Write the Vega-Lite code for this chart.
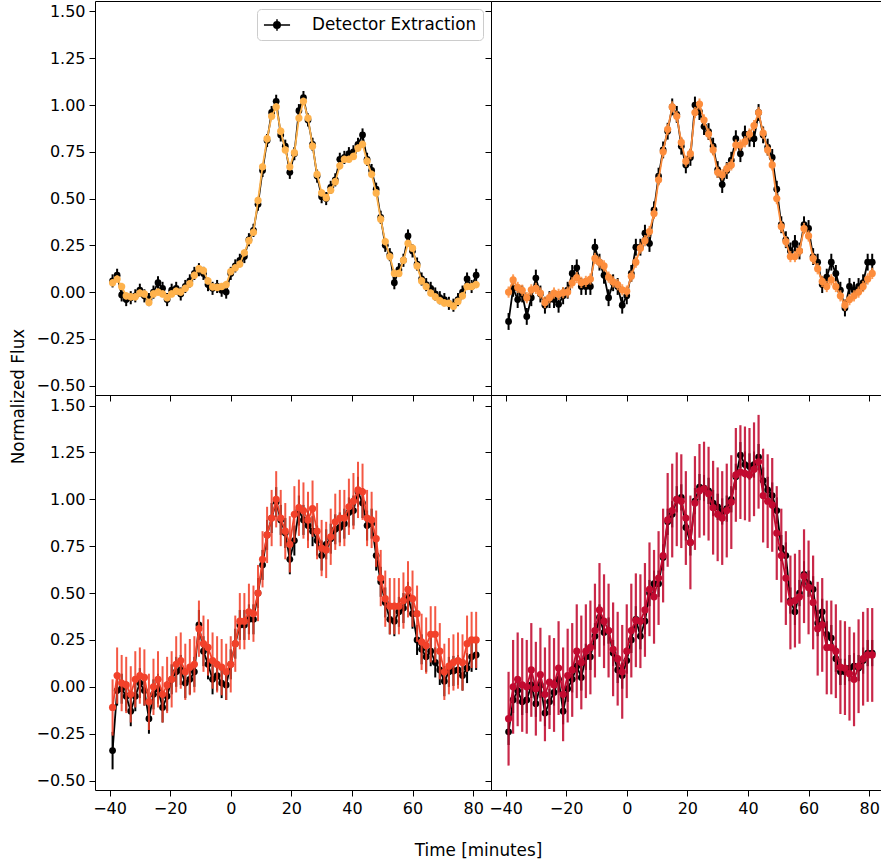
{
"$schema": "https://vega.github.io/schema/vega-lite/v6.json",
"padding": {"left": 9, "top": 0, "right": 0, "bottom": 0},
"background": "white",
"config": {
 "view": {"stroke": "black", "strokeWidth": 1},
 "font": "DejaVu Sans",
 "axis": {"domain": false, "grid": false, "tickColor": "black", "tickSize": 6, "tickWidth": 1, "labelFontSize": 16, "labelColor": "black", "labelFont": "DejaVu Sans", "titleFont": "DejaVu Sans", "titleFontSize": 16.8, "titleFontWeight": "normal", "titleColor": "black", "labelPadding": 4, "labelFlush": false, "labelOverlap": false}
},
"datasets": {
"tl": [
{"t":-39,"k":0.06,"c":0.05,"ke":0.035,"ce":0.02},
{"t":-37.5,"k":0.09,"c":0.07,"ke":0.035,"ce":0.02},
{"t":-36,"k":-0.015,"c":0.03,"ke":0.035,"ce":0.02},
{"t":-34.5,"k":-0.04,"c":-0.02,"ke":0.035,"ce":0.02},
{"t":-33,"k":-0.03,"c":-0.025,"ke":0.035,"ce":0.02},
{"t":-31.5,"k":-0.02,"c":-0.025,"ke":0.035,"ce":0.02},
{"t":-30,"k":0.01,"c":-0.005,"ke":0.035,"ce":0.02},
{"t":-28.5,"k":-0.02,"c":-0.01,"ke":0.035,"ce":0.02},
{"t":-27,"k":-0.04,"c":-0.055,"ke":0.035,"ce":0.02},
{"t":-25.5,"k":0.0,"c":-0.01,"ke":0.035,"ce":0.02},
{"t":-24,"k":0.05,"c":0.0,"ke":0.035,"ce":0.02},
{"t":-22.5,"k":0.02,"c":-0.01,"ke":0.035,"ce":0.02},
{"t":-21,"k":-0.04,"c":-0.03,"ke":0.035,"ce":0.02},
{"t":-19.5,"k":0.01,"c":-0.01,"ke":0.035,"ce":0.02},
{"t":-18,"k":0.02,"c":0.005,"ke":0.035,"ce":0.02},
{"t":-16.5,"k":-0.01,"c":0.0,"ke":0.035,"ce":0.02},
{"t":-15,"k":0.03,"c":0.02,"ke":0.035,"ce":0.02},
{"t":-13.5,"k":0.06,"c":0.045,"ke":0.035,"ce":0.02},
{"t":-12,"k":0.10,"c":0.09,"ke":0.035,"ce":0.02},
{"t":-10.5,"k":0.12,"c":0.125,"ke":0.035,"ce":0.02},
{"t":-9,"k":0.10,"c":0.115,"ke":0.035,"ce":0.02},
{"t":-7.5,"k":0.04,"c":0.06,"ke":0.035,"ce":0.02},
{"t":-6,"k":0.02,"c":0.028,"ke":0.035,"ce":0.02},
{"t":-4.5,"k":0.03,"c":0.025,"ke":0.035,"ce":0.02},
{"t":-3,"k":0.01,"c":0.03,"ke":0.035,"ce":0.02},
{"t":-1.5,"k":0.0,"c":0.04,"ke":0.035,"ce":0.02},
{"t":0,"k":0.10,"c":0.11,"ke":0.035,"ce":0.02},
{"t":1.5,"k":0.14,"c":0.13,"ke":0.035,"ce":0.02},
{"t":3,"k":0.17,"c":0.15,"ke":0.035,"ce":0.02},
{"t":4.5,"k":0.19,"c":0.21,"ke":0.035,"ce":0.02},
{"t":6,"k":0.28,"c":0.275,"ke":0.035,"ce":0.02},
{"t":7.5,"k":0.33,"c":0.32,"ke":0.035,"ce":0.02},
{"t":9,"k":0.47,"c":0.49,"ke":0.035,"ce":0.02},
{"t":10.5,"k":0.65,"c":0.67,"ke":0.035,"ce":0.02},
{"t":12,"k":0.81,"c":0.82,"ke":0.035,"ce":0.02},
{"t":13.5,"k":0.96,"c":0.94,"ke":0.035,"ce":0.02},
{"t":15,"k":1.02,"c":0.99,"ke":0.035,"ce":0.02},
{"t":16.5,"k":0.84,"c":0.86,"ke":0.035,"ce":0.02},
{"t":18,"k":0.78,"c":0.76,"ke":0.035,"ce":0.02},
{"t":19.5,"k":0.64,"c":0.67,"ke":0.035,"ce":0.02},
{"t":21,"k":0.74,"c":0.745,"ke":0.035,"ce":0.02},
{"t":22.5,"k":0.97,"c":0.93,"ke":0.035,"ce":0.02},
{"t":24,"k":1.04,"c":1.02,"ke":0.035,"ce":0.02},
{"t":25.5,"k":0.92,"c":0.93,"ke":0.035,"ce":0.02},
{"t":27,"k":0.79,"c":0.78,"ke":0.035,"ce":0.02},
{"t":28.5,"k":0.62,"c":0.63,"ke":0.035,"ce":0.02},
{"t":30,"k":0.51,"c":0.53,"ke":0.035,"ce":0.02},
{"t":31.5,"k":0.50,"c":0.505,"ke":0.035,"ce":0.02},
{"t":33,"k":0.56,"c":0.545,"ke":0.035,"ce":0.02},
{"t":34.5,"k":0.60,"c":0.59,"ke":0.035,"ce":0.02},
{"t":36,"k":0.71,"c":0.675,"ke":0.035,"ce":0.02},
{"t":37.5,"k":0.72,"c":0.71,"ke":0.035,"ce":0.02},
{"t":39,"k":0.74,"c":0.71,"ke":0.035,"ce":0.02},
{"t":40.5,"k":0.75,"c":0.725,"ke":0.035,"ce":0.02},
{"t":42,"k":0.79,"c":0.77,"ke":0.035,"ce":0.02},
{"t":43.5,"k":0.84,"c":0.79,"ke":0.035,"ce":0.02},
{"t":45,"k":0.71,"c":0.70,"ke":0.035,"ce":0.02},
{"t":46.5,"k":0.65,"c":0.63,"ke":0.035,"ce":0.02},
{"t":48,"k":0.55,"c":0.53,"ke":0.035,"ce":0.02},
{"t":49.5,"k":0.40,"c":0.39,"ke":0.035,"ce":0.02},
{"t":51,"k":0.25,"c":0.27,"ke":0.035,"ce":0.02},
{"t":52.5,"k":0.20,"c":0.19,"ke":0.035,"ce":0.02},
{"t":54,"k":0.05,"c":0.10,"ke":0.035,"ce":0.02},
{"t":55.5,"k":0.12,"c":0.10,"ke":0.035,"ce":0.02},
{"t":57,"k":0.17,"c":0.17,"ke":0.035,"ce":0.02},
{"t":58.5,"k":0.30,"c":0.26,"ke":0.035,"ce":0.02},
{"t":60,"k":0.22,"c":0.235,"ke":0.035,"ce":0.02},
{"t":61.5,"k":0.15,"c":0.14,"ke":0.035,"ce":0.02},
{"t":63,"k":0.07,"c":0.06,"ke":0.035,"ce":0.02},
{"t":64.5,"k":0.04,"c":0.03,"ke":0.035,"ce":0.02},
{"t":66,"k":0.02,"c":-0.005,"ke":0.035,"ce":0.02},
{"t":67.5,"k":-0.01,"c":-0.025,"ke":0.035,"ce":0.02},
{"t":69,"k":-0.03,"c":-0.045,"ke":0.035,"ce":0.02},
{"t":70.5,"k":-0.04,"c":-0.058,"ke":0.035,"ce":0.02},
{"t":72,"k":-0.06,"c":-0.06,"ke":0.035,"ce":0.02},
{"t":73.5,"k":-0.07,"c":-0.075,"ke":0.035,"ce":0.02},
{"t":75,"k":-0.04,"c":-0.05,"ke":0.035,"ce":0.02},
{"t":76.5,"k":0.0,"c":-0.02,"ke":0.035,"ce":0.02},
{"t":78,"k":0.07,"c":0.03,"ke":0.035,"ce":0.02},
{"t":79.5,"k":0.03,"c":0.03,"ke":0.035,"ce":0.02},
{"t":81,"k":0.09,"c":0.04,"ke":0.035,"ce":0.02}
],
"tr": [
{"t":-39,"k":-0.157,"c":0.0,"ke":0.045,"ce":0.03},
{"t":-37.5,"k":0.02,"c":0.065,"ke":0.045,"ce":0.03},
{"t":-36,"k":-0.04,"c":0.025,"ke":0.045,"ce":0.03},
{"t":-34.5,"k":-0.01,"c":0.01,"ke":0.045,"ce":0.03},
{"t":-33,"k":-0.13,"c":-0.03,"ke":0.045,"ce":0.03},
{"t":-31.5,"k":-0.03,"c":0.012,"ke":0.045,"ce":0.03},
{"t":-30,"k":0.075,"c":0.02,"ke":0.045,"ce":0.03},
{"t":-28.5,"k":-0.01,"c":-0.005,"ke":0.045,"ce":0.03},
{"t":-27,"k":-0.07,"c":-0.055,"ke":0.045,"ce":0.03},
{"t":-25.5,"k":-0.04,"c":-0.03,"ke":0.045,"ce":0.03},
{"t":-24,"k":-0.04,"c":-0.005,"ke":0.045,"ce":0.03},
{"t":-22.5,"k":-0.065,"c":-0.012,"ke":0.045,"ce":0.03},
{"t":-21,"k":-0.02,"c":-0.003,"ke":0.045,"ce":0.03},
{"t":-19.5,"k":0.01,"c":0.0,"ke":0.045,"ce":0.03},
{"t":-18,"k":0.10,"c":0.05,"ke":0.045,"ce":0.03},
{"t":-16.5,"k":0.13,"c":0.078,"ke":0.045,"ce":0.03},
{"t":-15,"k":0.03,"c":0.052,"ke":0.045,"ce":0.03},
{"t":-13.5,"k":0.03,"c":0.057,"ke":0.045,"ce":0.03},
{"t":-12,"k":0.03,"c":0.07,"ke":0.045,"ce":0.03},
{"t":-10.5,"k":0.24,"c":0.18,"ke":0.045,"ce":0.03},
{"t":-9,"k":0.16,"c":0.16,"ke":0.045,"ce":0.03},
{"t":-7.5,"k":0.09,"c":0.14,"ke":0.045,"ce":0.03},
{"t":-6,"k":-0.03,"c":0.08,"ke":0.045,"ce":0.03},
{"t":-4.5,"k":0.05,"c":0.055,"ke":0.045,"ce":0.03},
{"t":-3,"k":0.03,"c":0.04,"ke":0.045,"ce":0.03},
{"t":-1.5,"k":-0.07,"c":0.012,"ke":0.045,"ce":0.03},
{"t":0,"k":-0.02,"c":0.005,"ke":0.045,"ce":0.03},
{"t":1.5,"k":0.10,"c":0.085,"ke":0.045,"ce":0.03},
{"t":3,"k":0.24,"c":0.16,"ke":0.045,"ce":0.03},
{"t":4.5,"k":0.24,"c":0.235,"ke":0.045,"ce":0.03},
{"t":6,"k":0.315,"c":0.275,"ke":0.045,"ce":0.03},
{"t":7.5,"k":0.26,"c":0.324,"ke":0.045,"ce":0.03},
{"t":9,"k":0.44,"c":0.42,"ke":0.045,"ce":0.03},
{"t":10.5,"k":0.62,"c":0.60,"ke":0.045,"ce":0.03},
{"t":12,"k":0.76,"c":0.75,"ke":0.045,"ce":0.03},
{"t":13.5,"k":0.86,"c":0.87,"ke":0.045,"ce":0.03},
{"t":15,"k":0.99,"c":0.99,"ke":0.045,"ce":0.03},
{"t":16.5,"k":0.95,"c":0.94,"ke":0.045,"ce":0.03},
{"t":18,"k":0.78,"c":0.80,"ke":0.045,"ce":0.03},
{"t":19.5,"k":0.68,"c":0.70,"ke":0.045,"ce":0.03},
{"t":21,"k":0.72,"c":0.74,"ke":0.045,"ce":0.03},
{"t":22.5,"k":1.0,"c":0.96,"ke":0.045,"ce":0.03},
{"t":24,"k":0.965,"c":1.005,"ke":0.045,"ce":0.03},
{"t":25.5,"k":0.885,"c":0.92,"ke":0.045,"ce":0.03},
{"t":27,"k":0.858,"c":0.845,"ke":0.045,"ce":0.03},
{"t":28.5,"k":0.78,"c":0.76,"ke":0.045,"ce":0.03},
{"t":30,"k":0.655,"c":0.64,"ke":0.045,"ce":0.03},
{"t":31.5,"k":0.575,"c":0.627,"ke":0.045,"ce":0.03},
{"t":33,"k":0.65,"c":0.66,"ke":0.045,"ce":0.03},
{"t":34.5,"k":0.705,"c":0.68,"ke":0.045,"ce":0.03},
{"t":36,"k":0.82,"c":0.786,"ke":0.045,"ce":0.03},
{"t":37.5,"k":0.74,"c":0.786,"ke":0.045,"ce":0.03},
{"t":39,"k":0.845,"c":0.804,"ke":0.045,"ce":0.03},
{"t":40.5,"k":0.822,"c":0.845,"ke":0.045,"ce":0.03},
{"t":42,"k":0.82,"c":0.89,"ke":0.045,"ce":0.03},
{"t":43.5,"k":0.96,"c":0.96,"ke":0.045,"ce":0.03},
{"t":45,"k":0.84,"c":0.85,"ke":0.045,"ce":0.03},
{"t":46.5,"k":0.775,"c":0.76,"ke":0.045,"ce":0.03},
{"t":48,"k":0.72,"c":0.68,"ke":0.045,"ce":0.03},
{"t":49.5,"k":0.55,"c":0.50,"ke":0.045,"ce":0.03},
{"t":51,"k":0.36,"c":0.35,"ke":0.045,"ce":0.03},
{"t":52.5,"k":0.28,"c":0.27,"ke":0.045,"ce":0.03},
{"t":54,"k":0.22,"c":0.19,"ke":0.045,"ce":0.03},
{"t":55.5,"k":0.26,"c":0.19,"ke":0.045,"ce":0.03},
{"t":57,"k":0.22,"c":0.22,"ke":0.045,"ce":0.03},
{"t":58.5,"k":0.36,"c":0.34,"ke":0.045,"ce":0.03},
{"t":60,"k":0.34,"c":0.30,"ke":0.045,"ce":0.03},
{"t":61.5,"k":0.19,"c":0.18,"ke":0.045,"ce":0.03},
{"t":63,"k":0.16,"c":0.125,"ke":0.045,"ce":0.03},
{"t":64.5,"k":0.04,"c":0.057,"ke":0.045,"ce":0.03},
{"t":66,"k":0.08,"c":0.03,"ke":0.045,"ce":0.03},
{"t":67.5,"k":0.16,"c":0.066,"ke":0.045,"ce":0.03},
{"t":69,"k":0.10,"c":0.03,"ke":0.045,"ce":0.03},
{"t":70.5,"k":0.01,"c":-0.02,"ke":0.045,"ce":0.03},
{"t":72,"k":-0.085,"c":-0.07,"ke":0.045,"ce":0.03},
{"t":73.5,"k":0.03,"c":-0.04,"ke":0.045,"ce":0.03},
{"t":75,"k":0.01,"c":-0.02,"ke":0.045,"ce":0.03},
{"t":76.5,"k":0.03,"c":0.0,"ke":0.045,"ce":0.03},
{"t":78,"k":0.05,"c":0.03,"ke":0.045,"ce":0.03},
{"t":79.5,"k":0.16,"c":0.07,"ke":0.045,"ce":0.03},
{"t":81,"k":0.16,"c":0.10,"ke":0.045,"ce":0.03}
],
"bl": [
{"t":-39,"k":-0.34,"c":-0.11,"ke":0.1,"ce":0.15},
{"t":-37.5,"k":-0.02,"c":0.06,"ke":0.08,"ce":0.15},
{"t":-36,"k":-0.01,"c":0.02,"ke":0.08,"ce":0.15},
{"t":-34.5,"k":-0.05,"c":0.01,"ke":0.08,"ce":0.15},
{"t":-33,"k":-0.13,"c":-0.04,"ke":0.08,"ce":0.15},
{"t":-31.5,"k":-0.05,"c":0.04,"ke":0.08,"ce":0.15},
{"t":-30,"k":0.02,"c":0.06,"ke":0.08,"ce":0.15},
{"t":-28.5,"k":-0.02,"c":0.05,"ke":0.08,"ce":0.15},
{"t":-27,"k":-0.17,"c":-0.08,"ke":0.08,"ce":0.15},
{"t":-25.5,"k":-0.04,"c":0.0,"ke":0.08,"ce":0.15},
{"t":-24,"k":-0.01,"c":0.04,"ke":0.08,"ce":0.15},
{"t":-22.5,"k":-0.11,"c":-0.04,"ke":0.08,"ce":0.15},
{"t":-21,"k":-0.05,"c":0.01,"ke":0.08,"ce":0.15},
{"t":-19.5,"k":0.04,"c":0.04,"ke":0.08,"ce":0.15},
{"t":-18,"k":0.08,"c":0.12,"ke":0.08,"ce":0.15},
{"t":-16.5,"k":0.09,"c":0.14,"ke":0.08,"ce":0.15},
{"t":-15,"k":0.02,"c":0.08,"ke":0.08,"ce":0.15},
{"t":-13.5,"k":0.04,"c":0.105,"ke":0.08,"ce":0.15},
{"t":-12,"k":0.08,"c":0.12,"ke":0.08,"ce":0.15},
{"t":-10.5,"k":0.33,"c":0.31,"ke":0.08,"ce":0.15},
{"t":-9,"k":0.19,"c":0.23,"ke":0.08,"ce":0.15},
{"t":-7.5,"k":0.12,"c":0.21,"ke":0.08,"ce":0.15},
{"t":-6,"k":0.04,"c":0.14,"ke":0.08,"ce":0.15},
{"t":-4.5,"k":0.06,"c":0.12,"ke":0.08,"ce":0.15},
{"t":-3,"k":0.02,"c":0.105,"ke":0.08,"ce":0.15},
{"t":-1.5,"k":0.01,"c":0.08,"ke":0.08,"ce":0.15},
{"t":0,"k":0.12,"c":0.12,"ke":0.08,"ce":0.15},
{"t":1.5,"k":0.23,"c":0.23,"ke":0.08,"ce":0.15},
{"t":3,"k":0.33,"c":0.35,"ke":0.08,"ce":0.15},
{"t":4.5,"k":0.33,"c":0.35,"ke":0.08,"ce":0.15},
{"t":6,"k":0.36,"c":0.40,"ke":0.08,"ce":0.15},
{"t":7.5,"k":0.36,"c":0.39,"ke":0.08,"ce":0.15},
{"t":9,"k":0.50,"c":0.50,"ke":0.08,"ce":0.15},
{"t":10.5,"k":0.65,"c":0.68,"ke":0.08,"ce":0.15},
{"t":12,"k":0.81,"c":0.81,"ke":0.08,"ce":0.15},
{"t":13.5,"k":0.90,"c":0.90,"ke":0.08,"ce":0.15},
{"t":15,"k":0.985,"c":1.0,"ke":0.08,"ce":0.15},
{"t":16.5,"k":0.89,"c":0.90,"ke":0.08,"ce":0.15},
{"t":18,"k":0.82,"c":0.83,"ke":0.08,"ce":0.15},
{"t":19.5,"k":0.68,"c":0.76,"ke":0.08,"ce":0.15},
{"t":21,"k":0.78,"c":0.92,"ke":0.08,"ce":0.15},
{"t":22.5,"k":0.94,"c":0.955,"ke":0.08,"ce":0.15},
{"t":24,"k":0.89,"c":0.94,"ke":0.08,"ce":0.15},
{"t":25.5,"k":0.86,"c":0.89,"ke":0.08,"ce":0.15},
{"t":27,"k":0.83,"c":0.95,"ke":0.08,"ce":0.15},
{"t":28.5,"k":0.78,"c":0.83,"ke":0.08,"ce":0.15},
{"t":30,"k":0.70,"c":0.74,"ke":0.08,"ce":0.15},
{"t":31.5,"k":0.76,"c":0.73,"ke":0.08,"ce":0.15},
{"t":33,"k":0.79,"c":0.80,"ke":0.08,"ce":0.15},
{"t":34.5,"k":0.84,"c":0.88,"ke":0.08,"ce":0.15},
{"t":36,"k":0.85,"c":0.90,"ke":0.08,"ce":0.15},
{"t":37.5,"k":0.87,"c":0.90,"ke":0.08,"ce":0.15},
{"t":39,"k":0.93,"c":0.96,"ke":0.08,"ce":0.15},
{"t":40.5,"k":0.94,"c":0.99,"ke":0.08,"ce":0.15},
{"t":42,"k":1.04,"c":1.05,"ke":0.08,"ce":0.15},
{"t":43.5,"k":0.98,"c":1.04,"ke":0.08,"ce":0.15},
{"t":45,"k":0.86,"c":0.90,"ke":0.08,"ce":0.15},
{"t":46.5,"k":0.87,"c":0.89,"ke":0.08,"ce":0.15},
{"t":48,"k":0.70,"c":0.79,"ke":0.08,"ce":0.15},
{"t":49.5,"k":0.56,"c":0.58,"ke":0.08,"ce":0.15},
{"t":51,"k":0.45,"c":0.47,"ke":0.08,"ce":0.15},
{"t":52.5,"k":0.36,"c":0.43,"ke":0.08,"ce":0.15},
{"t":54,"k":0.35,"c":0.43,"ke":0.08,"ce":0.15},
{"t":55.5,"k":0.40,"c":0.43,"ke":0.08,"ce":0.15},
{"t":57,"k":0.42,"c":0.46,"ke":0.08,"ce":0.15},
{"t":58.5,"k":0.48,"c":0.52,"ke":0.08,"ce":0.15},
{"t":60,"k":0.39,"c":0.47,"ke":0.08,"ce":0.15},
{"t":61.5,"k":0.25,"c":0.39,"ke":0.08,"ce":0.15},
{"t":63,"k":0.20,"c":0.24,"ke":0.08,"ce":0.15},
{"t":64.5,"k":0.16,"c":0.22,"ke":0.08,"ce":0.15},
{"t":66,"k":0.19,"c":0.28,"ke":0.08,"ce":0.15},
{"t":67.5,"k":0.13,"c":0.28,"ke":0.08,"ce":0.15},
{"t":69,"k":0.09,"c":0.19,"ke":0.08,"ce":0.15},
{"t":70.5,"k":0.03,"c":0.08,"ke":0.08,"ce":0.15},
{"t":72,"k":0.08,"c":0.11,"ke":0.08,"ce":0.15},
{"t":73.5,"k":0.085,"c":0.13,"ke":0.08,"ce":0.15},
{"t":75,"k":0.09,"c":0.14,"ke":0.08,"ce":0.15},
{"t":76.5,"k":0.06,"c":0.13,"ke":0.08,"ce":0.15},
{"t":78,"k":0.10,"c":0.23,"ke":0.08,"ce":0.15},
{"t":79.5,"k":0.16,"c":0.25,"ke":0.08,"ce":0.15},
{"t":81,"k":0.17,"c":0.25,"ke":0.08,"ce":0.15}
],
"br": [
{"t":-39,"k":-0.24,"c":-0.17,"ke":0.07,"ce":0.25},
{"t":-37.5,"k":-0.07,"c":0.0,"ke":0.07,"ce":0.25},
{"t":-36,"k":-0.02,"c":0.04,"ke":0.07,"ce":0.25},
{"t":-34.5,"k":-0.08,"c":0.01,"ke":0.07,"ce":0.25},
{"t":-33,"k":-0.07,"c":0.0,"ke":0.07,"ce":0.25},
{"t":-31.5,"k":0.01,"c":0.09,"ke":0.07,"ce":0.25},
{"t":-30,"k":-0.09,"c":-0.01,"ke":0.07,"ce":0.25},
{"t":-28.5,"k":0.01,"c":0.065,"ke":0.07,"ce":0.25},
{"t":-27,"k":-0.14,"c":-0.04,"ke":0.07,"ce":0.25},
{"t":-25.5,"k":-0.08,"c":0.025,"ke":0.07,"ce":0.25},
{"t":-24,"k":-0.03,"c":0.01,"ke":0.07,"ce":0.25},
{"t":-22.5,"k":0.04,"c":0.10,"ke":0.07,"ce":0.25},
{"t":-21,"k":-0.13,"c":-0.04,"ke":0.07,"ce":0.25},
{"t":-19.5,"k":-0.01,"c":0.06,"ke":0.07,"ce":0.25},
{"t":-18,"k":0.04,"c":0.09,"ke":0.07,"ce":0.25},
{"t":-16.5,"k":0.11,"c":0.19,"ke":0.07,"ce":0.25},
{"t":-15,"k":0.05,"c":0.13,"ke":0.07,"ce":0.25},
{"t":-13.5,"k":0.16,"c":0.19,"ke":0.07,"ce":0.25},
{"t":-12,"k":0.16,"c":0.21,"ke":0.07,"ce":0.25},
{"t":-10.5,"k":0.27,"c":0.30,"ke":0.07,"ce":0.25},
{"t":-9,"k":0.37,"c":0.41,"ke":0.07,"ce":0.25},
{"t":-7.5,"k":0.29,"c":0.35,"ke":0.07,"ce":0.25},
{"t":-6,"k":0.30,"c":0.30,"ke":0.07,"ce":0.25},
{"t":-4.5,"k":0.18,"c":0.20,"ke":0.07,"ce":0.25},
{"t":-3,"k":0.09,"c":0.15,"ke":0.07,"ce":0.25},
{"t":-1.5,"k":0.06,"c":0.08,"ke":0.07,"ce":0.25},
{"t":0,"k":0.14,"c":0.19,"ke":0.07,"ce":0.25},
{"t":1.5,"k":0.25,"c":0.30,"ke":0.07,"ce":0.25},
{"t":3,"k":0.36,"c":0.355,"ke":0.07,"ce":0.25},
{"t":4.5,"k":0.27,"c":0.35,"ke":0.07,"ce":0.25},
{"t":6,"k":0.35,"c":0.41,"ke":0.07,"ce":0.25},
{"t":7.5,"k":0.50,"c":0.52,"ke":0.07,"ce":0.25},
{"t":9,"k":0.55,"c":0.48,"ke":0.07,"ce":0.25},
{"t":10.5,"k":0.55,"c":0.58,"ke":0.07,"ce":0.25},
{"t":12,"k":0.69,"c":0.70,"ke":0.07,"ce":0.25},
{"t":13.5,"k":0.88,"c":0.89,"ke":0.07,"ce":0.25},
{"t":15,"k":0.92,"c":0.94,"ke":0.07,"ce":0.25},
{"t":16.5,"k":1.0,"c":1.0,"ke":0.07,"ce":0.25},
{"t":18,"k":1.01,"c":0.99,"ke":0.07,"ce":0.25},
{"t":19.5,"k":0.85,"c":0.90,"ke":0.07,"ce":0.25},
{"t":21,"k":0.77,"c":0.77,"ke":0.07,"ce":0.25},
{"t":22.5,"k":0.99,"c":0.98,"ke":0.07,"ce":0.25},
{"t":24,"k":1.065,"c":1.045,"ke":0.07,"ce":0.25},
{"t":25.5,"k":1.06,"c":1.057,"ke":0.07,"ce":0.25},
{"t":27,"k":1.045,"c":1.03,"ke":0.07,"ce":0.25},
{"t":28.5,"k":0.98,"c":0.955,"ke":0.07,"ce":0.25},
{"t":30,"k":0.96,"c":0.92,"ke":0.07,"ce":0.25},
{"t":31.5,"k":0.935,"c":0.90,"ke":0.07,"ce":0.25},
{"t":33,"k":0.95,"c":0.94,"ke":0.07,"ce":0.25},
{"t":34.5,"k":1.0,"c":0.985,"ke":0.07,"ce":0.25},
{"t":36,"k":1.12,"c":1.13,"ke":0.07,"ce":0.25},
{"t":37.5,"k":1.235,"c":1.145,"ke":0.07,"ce":0.25},
{"t":39,"k":1.185,"c":1.138,"ke":0.07,"ce":0.25},
{"t":40.5,"k":1.175,"c":1.13,"ke":0.07,"ce":0.25},
{"t":42,"k":1.185,"c":1.16,"ke":0.07,"ce":0.25},
{"t":43.5,"k":1.225,"c":1.20,"ke":0.07,"ce":0.25},
{"t":45,"k":1.10,"c":1.02,"ke":0.07,"ce":0.25},
{"t":46.5,"k":1.05,"c":0.99,"ke":0.07,"ce":0.25},
{"t":48,"k":1.02,"c":0.97,"ke":0.07,"ce":0.25},
{"t":49.5,"k":0.94,"c":0.82,"ke":0.07,"ce":0.25},
{"t":51,"k":0.74,"c":0.70,"ke":0.07,"ce":0.25},
{"t":52.5,"k":0.70,"c":0.58,"ke":0.07,"ce":0.25},
{"t":54,"k":0.46,"c":0.45,"ke":0.07,"ce":0.25},
{"t":55.5,"k":0.40,"c":0.46,"ke":0.07,"ce":0.25},
{"t":57,"k":0.50,"c":0.48,"ke":0.07,"ce":0.25},
{"t":58.5,"k":0.60,"c":0.59,"ke":0.07,"ce":0.25},
{"t":60,"k":0.55,"c":0.53,"ke":0.07,"ce":0.25},
{"t":61.5,"k":0.52,"c":0.45,"ke":0.07,"ce":0.25},
{"t":63,"k":0.34,"c":0.31,"ke":0.07,"ce":0.25},
{"t":64.5,"k":0.40,"c":0.33,"ke":0.07,"ce":0.25},
{"t":66,"k":0.28,"c":0.21,"ke":0.07,"ce":0.25},
{"t":67.5,"k":0.26,"c":0.21,"ke":0.07,"ce":0.25},
{"t":69,"k":0.15,"c":0.19,"ke":0.07,"ce":0.25},
{"t":70.5,"k":0.08,"c":0.105,"ke":0.07,"ce":0.25},
{"t":72,"k":0.08,"c":0.10,"ke":0.07,"ce":0.25},
{"t":73.5,"k":0.10,"c":0.07,"ke":0.07,"ce":0.25},
{"t":75,"k":0.11,"c":0.04,"ke":0.07,"ce":0.25},
{"t":76.5,"k":0.10,"c":0.11,"ke":0.07,"ce":0.25},
{"t":78,"k":0.14,"c":0.15,"ke":0.07,"ce":0.25},
{"t":79.5,"k":0.18,"c":0.17,"ke":0.07,"ce":0.25},
{"t":81,"k":0.18,"c":0.17,"ke":0.07,"ce":0.25}
]
},
"columns": 2,
"spacing": 0,
"bounds": "flush",
"resolve": {"scale": {"color": "independent"}, "legend": {"color": "independent"}},
"concat": [
 {"width": 396, "height": 394, "data": {"name": "tl"},
  "encoding": {"x": {"field": "t", "type": "quantitative", "scale": {"domain": [-44.8, 85.9], "nice": false, "zero": false}, "axis": {"values": [-40,-20,0,20,40,60,80], "labels": false, "title": null}}},
  "layer": [
   {"mark": {"type": "errorbar", "color": "black", "thickness": 2},
    "encoding": {"y": {"field": "k", "type": "quantitative", "scale": {"domain": [-0.55, 1.556], "nice": false, "zero": false}, "axis": {"values": [-0.5,-0.25,0,0.25,0.5,0.75,1,1.25,1.5], "format": ".2f", "title": "Normalized Flux", "titleX": -77, "titleY": 395, "titleBaseline": "middle", "titleAlign": "center", "titleAngle": -90}}, "yError": {"field": "ke"}}},
   {"mark": {"type": "line", "color": "black", "strokeWidth": 1.8, "point": {"filled": true, "size": 46, "color": "black"}},
    "encoding": {"y": {"field": "k", "type": "quantitative", "axis": {"values": [-0.5,-0.25,0,0.25,0.5,0.75,1,1.25,1.5], "format": ".2f", "title": "Normalized Flux", "titleX": -77, "titleY": 395, "titleBaseline": "middle", "titleAlign": "center", "titleAngle": -90}},
     "color": {"datum": "Detector Extraction", "type": "nominal", "scale": {"range": ["black"]},
      "legend": {"title": null, "orient": "top-right", "offset": 8, "padding": 6, "strokeColor": "#cccccc", "fillColor": "white", "cornerRadius": 4, "labelFontSize": 16.8, "labelLimit": 400, "labelFont": "DejaVu Sans", "labelColor": "black", "labelOffset": 25, "symbolOffset": 4, "symbolType": "M-1.45,0H1.45M0,-0.65V0.65M0.36,0A0.36,0.36,0,1,1,-0.36,0A0.36,0.36,0,1,1,0.36,0Z", "symbolSize": 324, "symbolStrokeWidth": 1.5, "symbolFillColor": "black", "symbolStrokeColor": "black",
       "encode": {"symbols": {"update": {"fill": {"value": "black"}, "stroke": {"value": "black"}, "opacity": {"value": 1}}}}}}}},
   {"mark": {"type": "errorbar", "color": "#feb24c", "thickness": 2, "opacity": 0.85},
    "encoding": {"y": {"field": "c", "type": "quantitative", "axis": {"values": [-0.5,-0.25,0,0.25,0.5,0.75,1,1.25,1.5], "format": ".2f", "title": "Normalized Flux", "titleX": -77, "titleY": 395, "titleBaseline": "middle", "titleAlign": "center", "titleAngle": -90}}, "yError": {"field": "ce"}}},
   {"mark": {"type": "line", "color": "#feb24c", "strokeWidth": 1.8, "point": {"filled": true, "size": 52, "color": "#feb24c"}},
    "encoding": {"y": {"field": "c", "type": "quantitative", "axis": {"values": [-0.5,-0.25,0,0.25,0.5,0.75,1,1.25,1.5], "format": ".2f", "title": "Normalized Flux", "titleX": -77, "titleY": 395, "titleBaseline": "middle", "titleAlign": "center", "titleAngle": -90}}}}
  ]},
 {"width": 390, "height": 394, "data": {"name": "tr"},
  "encoding": {"x": {"field": "t", "type": "quantitative", "scale": {"domain": [-44.8, 83.9], "nice": false, "zero": false}, "axis": {"values": [-40,-20,0,20,40,60,80], "labels": false, "title": null}}},
  "layer": [
   {"mark": {"type": "errorbar", "color": "black", "thickness": 2},
    "encoding": {"y": {"field": "k", "type": "quantitative", "scale": {"domain": [-0.55, 1.556], "nice": false, "zero": false}, "axis": {"values": [-0.5,-0.25,0,0.25,0.5,0.75,1,1.25,1.5], "labels": false, "title": null}}, "yError": {"field": "ke"}}},
   {"mark": {"type": "line", "color": "black", "strokeWidth": 1.8, "point": {"filled": true, "size": 46, "color": "black"}},
    "encoding": {"y": {"field": "k", "type": "quantitative", "axis": {"values": [-0.5,-0.25,0,0.25,0.5,0.75,1,1.25,1.5], "labels": false, "title": null}}}},
   {"mark": {"type": "errorbar", "color": "#fd8d3c", "thickness": 2, "opacity": 0.85},
    "encoding": {"y": {"field": "c", "type": "quantitative", "axis": {"values": [-0.5,-0.25,0,0.25,0.5,0.75,1,1.25,1.5], "labels": false, "title": null}}, "yError": {"field": "ce"}}},
   {"mark": {"type": "line", "color": "#fd8d3c", "strokeWidth": 1.8, "point": {"filled": true, "size": 52, "color": "#fd8d3c"}},
    "encoding": {"y": {"field": "c", "type": "quantitative", "axis": {"values": [-0.5,-0.25,0,0.25,0.5,0.75,1,1.25,1.5], "labels": false, "title": null}}}}
  ]},
 {"width": 396, "height": 395, "data": {"name": "bl"},
  "encoding": {"x": {"field": "t", "type": "quantitative", "scale": {"domain": [-44.8, 85.9], "nice": false, "zero": false}, "axis": {"values": [-40,-20,0,20,40,60,80], "format": "d", "title": "Time [minutes]", "titleX": 383, "titleY": 60, "titleBaseline": "middle", "titleAlign": "center"}}},
  "layer": [
   {"mark": {"type": "errorbar", "color": "black", "thickness": 2},
    "encoding": {"y": {"field": "k", "type": "quantitative", "scale": {"domain": [-0.55, 1.556], "nice": false, "zero": false}, "axis": {"values": [-0.5,-0.25,0,0.25,0.5,0.75,1,1.25,1.5], "format": ".2f", "title": null}}, "yError": {"field": "ke"}}},
   {"mark": {"type": "line", "color": "black", "strokeWidth": 1.8, "point": {"filled": true, "size": 46, "color": "black"}},
    "encoding": {"y": {"field": "k", "type": "quantitative", "axis": {"values": [-0.5,-0.25,0,0.25,0.5,0.75,1,1.25,1.5], "format": ".2f", "title": null}}}},
   {"mark": {"type": "errorbar", "color": "#f2412a", "thickness": 2, "opacity": 0.88},
    "encoding": {"y": {"field": "c", "type": "quantitative", "axis": {"values": [-0.5,-0.25,0,0.25,0.5,0.75,1,1.25,1.5], "format": ".2f", "title": null}}, "yError": {"field": "ce"}}},
   {"mark": {"type": "line", "color": "#f2412a", "strokeWidth": 1.8, "point": {"filled": true, "size": 52, "color": "#f2412a"}},
    "encoding": {"y": {"field": "c", "type": "quantitative", "axis": {"values": [-0.5,-0.25,0,0.25,0.5,0.75,1,1.25,1.5], "format": ".2f", "title": null}}}}
  ]},
 {"width": 390, "height": 395, "data": {"name": "br"},
  "encoding": {"x": {"field": "t", "type": "quantitative", "scale": {"domain": [-44.8, 83.9], "nice": false, "zero": false}, "axis": {"values": [-40,-20,0,20,40,60,80], "format": "d", "title": null}}},
  "layer": [
   {"mark": {"type": "errorbar", "color": "black", "thickness": 2},
    "encoding": {"y": {"field": "k", "type": "quantitative", "scale": {"domain": [-0.55, 1.556], "nice": false, "zero": false}, "axis": {"values": [-0.5,-0.25,0,0.25,0.5,0.75,1,1.25,1.5], "labels": false, "title": null}}, "yError": {"field": "ke"}}},
   {"mark": {"type": "line", "color": "black", "strokeWidth": 1.8, "point": {"filled": true, "size": 46, "color": "black"}},
    "encoding": {"y": {"field": "k", "type": "quantitative", "axis": {"values": [-0.5,-0.25,0,0.25,0.5,0.75,1,1.25,1.5], "labels": false, "title": null}}}},
   {"mark": {"type": "errorbar", "color": "#c20a30", "thickness": 2.2, "opacity": 0.88},
    "encoding": {"y": {"field": "c", "type": "quantitative", "axis": {"values": [-0.5,-0.25,0,0.25,0.5,0.75,1,1.25,1.5], "labels": false, "title": null}}, "yError": {"field": "ce"}}},
   {"mark": {"type": "line", "color": "#c20a30", "strokeWidth": 1.8, "point": {"filled": true, "size": 52, "color": "#c20a30"}},
    "encoding": {"y": {"field": "c", "type": "quantitative", "axis": {"values": [-0.5,-0.25,0,0.25,0.5,0.75,1,1.25,1.5], "labels": false, "title": null}}}}
  ]}
]
}
